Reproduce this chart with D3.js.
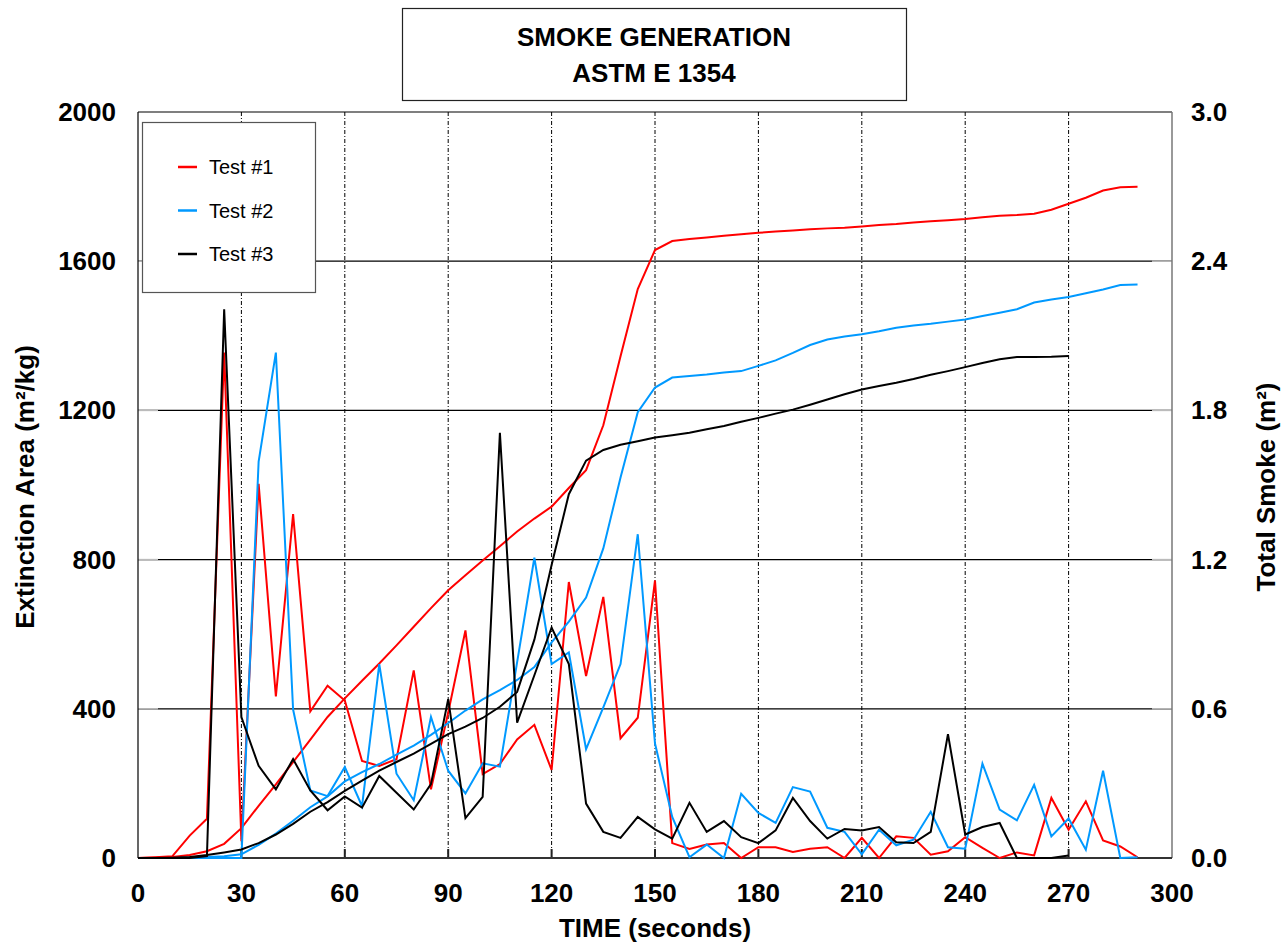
<!DOCTYPE html>
<html>
<head>
<meta charset="utf-8">
<script src="https://cdn.jsdelivr.net/npm/d3@7"></script>
<style>
  body { margin: 0; background: #fff; }
  text { font-family: "Liberation Sans", Arial, sans-serif; }
  .tick-label { font-size: 26px; font-weight: bold; }
</style>
</head>
<body>
<div id="chart"></div>
<script>
// time axis (seconds), sampled every 5 s
const time = d3.range(0, 295, 5);
const time3 = d3.range(0, 275, 5);

// Extinction area (m²/kg) - left axis
const ext1 = [0, 2, 5, 60, 105, 1355, 45, 1003, 433, 922, 393, 462, 422, 260, 247, 265, 503, 184, 390, 610,
  225, 252, 318, 357, 236, 740, 488, 700, 321, 376, 744, 40, 24, 36, 40, 0, 29, 29, 16, 25,
  29, 0, 54, 0, 58, 54, 9, 18, 56, 27, 0, 15, 7, 161, 76, 152, 47, 31, 2];
const ext2 = [0, 0, 0, 0, 0, 0, 0, 1063, 1355, 398, 181, 166, 244, 139, 520, 226, 155, 378, 234, 173,
  254, 245, 525, 805, 520, 551, 292, 404, 520, 868, 307, 110, 2, 36, 0, 172, 121, 94, 190, 178,
  81, 70, 10, 76, 34, 49, 124, 29, 25, 253, 130, 101, 196, 58, 106, 22, 234, 0, 2];
const ext3 = [0, 0, 0, 0, 5, 1471, 378, 247, 184, 265, 181, 128, 165, 135, 220, 175, 130, 198, 426, 107,
  164, 1140, 363, 490, 618, 520, 146, 70, 54, 110, 77, 52, 148, 70, 99, 56, 40, 74, 161, 99,
  52, 78, 74, 83, 42, 40, 70, 332, 63, 83, 94, 0, 0, 0, 7];

// Total smoke (m²) - right axis
const tot1 = [0, 0.0015, 0.0045, 0.012, 0.027, 0.057, 0.12, 0.21, 0.296, 0.386, 0.476, 0.567, 0.642, 0.713, 0.782, 0.855, 0.93, 1.005, 1.077, 1.137,
  1.196, 1.254, 1.313, 1.365, 1.413, 1.488, 1.56, 1.74, 2.018, 2.288, 2.445, 2.481, 2.489, 2.495, 2.502, 2.508, 2.514, 2.519, 2.523, 2.528,
  2.532, 2.535, 2.54, 2.546, 2.55, 2.556, 2.561, 2.565, 2.57, 2.577, 2.583, 2.586, 2.591, 2.607, 2.631, 2.655, 2.684, 2.697, 2.699];
const tot2 = [0, 0, 0, 0.0015, 0.0045, 0.0075, 0.015, 0.053, 0.098, 0.15, 0.204, 0.248, 0.308, 0.345, 0.378, 0.416, 0.452, 0.495, 0.543, 0.593,
  0.638, 0.675, 0.716, 0.768, 0.867, 0.951, 1.047, 1.245, 1.53, 1.793, 1.892, 1.932, 1.938, 1.944, 1.952, 1.958, 1.979, 2.001, 2.031, 2.063,
  2.085, 2.097, 2.106, 2.118, 2.132, 2.141, 2.148, 2.157, 2.166, 2.18, 2.193, 2.207, 2.234, 2.246, 2.256, 2.271, 2.286, 2.304, 2.306];
const tot3 = [0, 0, 0.0015, 0.0045, 0.012, 0.0225, 0.0345, 0.06, 0.0945, 0.137, 0.186, 0.225, 0.27, 0.311, 0.351, 0.386, 0.42, 0.459, 0.498, 0.528,
  0.563, 0.608, 0.668, 0.878, 1.178, 1.463, 1.598, 1.641, 1.662, 1.676, 1.691, 1.7, 1.71, 1.724, 1.737, 1.754, 1.77, 1.787, 1.803, 1.823,
  1.844, 1.865, 1.884, 1.898, 1.911, 1.926, 1.943, 1.958, 1.974, 1.991, 2.006, 2.015, 2.015, 2.016, 2.019];

const xTicks = [0, 30, 60, 90, 120, 150, 180, 210, 240, 270, 300];
const yLeftTicks = [0, 400, 800, 1200, 1600, 2000];
const yRightTicks = [0, 0.6, 1.2, 1.8, 2.4, 3.0];
const seriesNames = ["Test #1", "Test #2", "Test #3"];
const seriesColors = ["#ff0000", "#0099ff", "#000000"];

const W = 1286, H = 944;
const margin = {top: 112, right: 114, bottom: 86, left: 138};
const width = W - margin.left - margin.right;
const height = H - margin.top - margin.bottom;

const svg = d3.select("#chart").append("svg")
    .attr("width", W)
    .attr("height", H);

const g = svg.append("g")
    .attr("transform", `translate(${margin.left},${margin.top})`);

const x = d3.scaleLinear().domain([0, 300]).range([0, width]);
const yL = d3.scaleLinear().domain([0, 2000]).range([height, 0]);
const yR = d3.scaleLinear().domain([0, 3]).range([height, 0]);

// grid
g.selectAll(".hgrid")
    .data(yLeftTicks.filter(d => d > 0 && d < 2000))
    .enter().append("line")
    .attr("x1", 0).attr("x2", width)
    .attr("y1", d => yL(d)).attr("y2", d => yL(d))
    .attr("stroke", "#000").attr("stroke-width", 1.2);

g.selectAll(".vgrid")
    .data(xTicks.filter(d => d > 0 && d < 300))
    .enter().append("line")
    .attr("x1", d => x(d)).attr("x2", d => x(d))
    .attr("y1", 0).attr("y2", height)
    .attr("stroke", "#000").attr("stroke-width", 1)
    .attr("stroke-dasharray", "4,2,1,2");

// bottom tick marks
g.selectAll(".xtick")
    .data(xTicks.filter(d => d > 0 && d < 300))
    .enter().append("line")
    .attr("x1", d => x(d)).attr("x2", d => x(d))
    .attr("y1", height).attr("y2", height - 9)
    .attr("stroke", "#222").attr("stroke-width", 2);

// side tick marks (light grey, inside)
g.selectAll(".ltick")
    .data(yLeftTicks.filter(d => d > 0 && d < 2000))
    .enter().append("line")
    .attr("x1", 0).attr("x2", 20)
    .attr("y1", d => yL(d)).attr("y2", d => yL(d))
    .attr("stroke", "#bbb").attr("stroke-width", 1.5);
g.selectAll(".rtick")
    .data(yRightTicks.filter(d => d > 0 && d < 3))
    .enter().append("line")
    .attr("x1", width - 20).attr("x2", width)
    .attr("y1", d => yR(d)).attr("y2", d => yR(d))
    .attr("stroke", "#bbb").attr("stroke-width", 1.5);

// frame
g.append("line").attr("x1", 0).attr("x2", width).attr("y1", 0).attr("y2", 0)
    .attr("stroke", "#000").attr("stroke-width", 1.2);
g.append("line").attr("x1", 0).attr("x2", 0).attr("y1", 0).attr("y2", height)
    .attr("stroke", "#000").attr("stroke-width", 1.2);
g.append("line").attr("x1", width).attr("x2", width).attr("y1", 0).attr("y2", height)
    .attr("stroke", "#777").attr("stroke-width", 1.5);
g.append("line").attr("x1", 0).attr("x2", width).attr("y1", height).attr("y2", height)
    .attr("stroke", "#333").attr("stroke-width", 2);

// lines
const lineL = d3.line().x(d => x(d[0])).y(d => yL(d[1]));
const lineR = d3.line().x(d => x(d[0])).y(d => yR(d[1]));

const extSeries = [ext1, ext2, ext3];
const totSeries = [tot1, tot2, tot3];
const times = [time, time, time3];

[0, 1, 2].forEach(i => {
    g.append("path")
        .datum(times[i].map((t, j) => [t, extSeries[i][j]]))
        .attr("d", lineL)
        .attr("fill", "none")
        .attr("stroke", seriesColors[i])
        .attr("stroke-width", 2)
        .attr("stroke-linejoin", "miter");
    g.append("path")
        .datum(times[i].map((t, j) => [t, totSeries[i][j]]))
        .attr("d", lineR)
        .attr("fill", "none")
        .attr("stroke", seriesColors[i])
        .attr("stroke-width", 2);
});

// tick labels
g.selectAll(".xl")
    .data(xTicks)
    .enter().append("text")
    .attr("class", "tick-label")
    .attr("x", d => x(d))
    .attr("y", height + 44)
    .attr("text-anchor", "middle")
    .text(d => d);

g.selectAll(".yl")
    .data(yLeftTicks)
    .enter().append("text")
    .attr("class", "tick-label")
    .attr("x", -22)
    .attr("y", d => yL(d) + 9)
    .attr("text-anchor", "end")
    .text(d => d);

g.selectAll(".yr")
    .data(yRightTicks)
    .enter().append("text")
    .attr("class", "tick-label")
    .attr("x", width + 19)
    .attr("y", d => yR(d) + 9)
    .attr("text-anchor", "start")
    .text(d => d.toFixed(1));

// axis titles
svg.append("text")
    .attr("x", margin.left + width / 2)
    .attr("y", 937)
    .attr("text-anchor", "middle")
    .style("font-size", "26px").style("font-weight", "bold")
    .text("TIME (seconds)");

svg.append("text")
    .attr("transform", `translate(34,${margin.top + height / 2 + 2}) rotate(-90)`)
    .attr("text-anchor", "middle")
    .style("font-size", "26px").style("font-weight", "bold")
    .text("Extinction Area (m²/kg)");

svg.append("text")
    .attr("transform", `translate(1275,${margin.top + height / 2 + 2}) rotate(-90)`)
    .attr("text-anchor", "middle")
    .style("font-size", "26px").style("font-weight", "bold")
    .text("Total Smoke (m²)");

// title box
svg.append("rect")
    .attr("x", 402.5).attr("y", 8.5)
    .attr("width", 504).attr("height", 92)
    .attr("fill", "#fff").attr("stroke", "#222").attr("stroke-width", 1.2);
svg.append("text")
    .attr("x", 654).attr("y", 46)
    .attr("text-anchor", "middle")
    .style("font-size", "26px").style("font-weight", "bold")
    .text("SMOKE GENERATION");
svg.append("text")
    .attr("x", 654).attr("y", 82)
    .attr("text-anchor", "middle")
    .style("font-size", "26px").style("font-weight", "bold")
    .text("ASTM E 1354");

// legend
const leg = svg.append("g").attr("transform", "translate(142,122)");
leg.append("rect")
    .attr("x", 0.5).attr("y", 0.5)
    .attr("width", 173).attr("height", 170)
    .attr("fill", "#fff").attr("stroke", "#555").attr("stroke-width", 1.2);
seriesNames.forEach((name, i) => {
    const ly = 45 + i * 43.5;
    leg.append("line")
        .attr("x1", 36).attr("x2", 55)
        .attr("y1", ly).attr("y2", ly)
        .attr("stroke", seriesColors[i]).attr("stroke-width", 2.5);
    leg.append("text")
        .attr("x", 67).attr("y", ly + 7)
        .style("font-size", "20px")
        .text(name);
});
</script>
</body>
</html>
